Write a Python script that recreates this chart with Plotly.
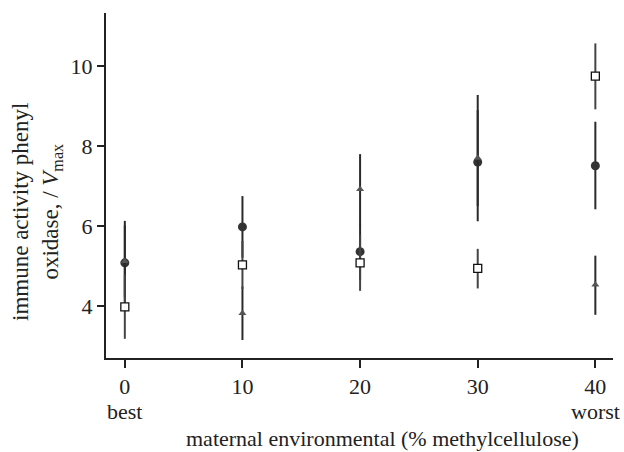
import plotly.graph_objects as go

x_vals = [0, 10, 20, 30, 40]
tick_text = ["0", "10", "20", "30", "40"]
end_labels = {0: "best", 40: "worst"}

square_y = [3.98, 5.03, 5.08, 4.94, 9.75]
square_up = [0.80, 0.60, 0.70, 0.49, 0.82]
square_dn = [0.80, 0.60, 0.70, 0.50, 0.83]

circle_y = [5.08, 5.98, 5.36, 7.60, 7.51]
circle_up = [1.05, 0.77, 0.70, 1.68, 1.10]
circle_dn = [1.00, 0.77, 0.70, 1.48, 1.09]

triangle_y = [5.12, 3.82, 6.92, 7.70, 4.53]
triangle_up = [0.90, 0.67, 0.88, 1.20, 0.73]
triangle_dn = [0.90, 0.67, 0.88, 1.20, 0.75]

font_family = "Liberation Serif, Times New Roman, serif"

W, H = 624, 452
L, R, T, B = 106, 11, 13, 94
PW, PH = W - L - R, H - T - B

fig = go.Figure()

fig.add_trace(go.Scatter(
    x=x_vals, y=circle_y, mode="markers",
    marker=dict(symbol="circle", size=9, color="#333333", line=dict(width=0)),
    error_y=dict(type="data", symmetric=False, array=circle_up, arrayminus=circle_dn,
                 width=0, thickness=2, color="#2a2a2a"),
    showlegend=False,
))
fig.add_trace(go.Scatter(
    x=x_vals, y=triangle_y, mode="markers",
    marker=dict(symbol="triangle-up", size=7, color="#555555", line=dict(width=0)),
    error_y=dict(type="data", symmetric=False, array=triangle_up, arrayminus=triangle_dn,
                 width=0, thickness=2, color="#2a2a2a"),
    showlegend=False,
))
fig.add_trace(go.Scatter(
    x=x_vals, y=square_y, mode="markers",
    marker=dict(symbol="square", size=8, color="white", line=dict(width=1.3, color="#111111")),
    error_y=dict(type="data", symmetric=False, array=square_up, arrayminus=square_dn,
                 width=0, thickness=2, color="#444444"),
    showlegend=False,
))

annotations = [
    dict(text=txt, xref="x", yref="paper", x=xv, y=-(411 - 358) / PH,
         xanchor="center", yanchor="middle", showarrow=False, font=dict(size=22))
    for xv, txt in end_labels.items()
]
annotations += [
    dict(text="maternal environmental (% methylcellulose)", xref="paper", yref="paper",
         x=(382 - 106) / PW, y=-(438 - 358) / PH, xanchor="center",
         yanchor="middle", showarrow=False, font=dict(size=22)),
    dict(text="immune activity phenyl<br>oxidase, / <i>V</i><sub>max</sub>",
         xref="paper", yref="paper",
         x=-(106 - 37) / PW, y=(358 - 212) / PH,
         xanchor="center", yanchor="middle", textangle=-90, showarrow=False,
         font=dict(size=23)),
]

fig.update_layout(
    width=W, height=H,
    margin=dict(l=L, r=R, t=T, b=B, autoexpand=False),
    plot_bgcolor="white", paper_bgcolor="white",
    font=dict(family=font_family, size=22, color="#222222"),
    xaxis=dict(
        range=[-1.6, 41.5], tickmode="array", tickvals=x_vals, ticktext=tick_text,
        showgrid=False, zeroline=False, showline=True, linecolor="#222222", linewidth=2,
        ticks="outside", ticklen=8, tickwidth=1.5, tickcolor="#222222",
        tickfont=dict(size=22), automargin=False,
    ),
    yaxis=dict(
        range=[2.7, 11.33], tickmode="array", tickvals=[4, 6, 8, 10],
        showgrid=False, zeroline=False, showline=True, linecolor="#222222", linewidth=2,
        ticks="outside", ticklen=7, tickwidth=1.5, tickcolor="#222222",
        tickfont=dict(size=22), automargin=False,
    ),
    annotations=annotations,
)

fig.write_html(
    "out.html",
    config={"displayModeBar": False},
    post_script="document.body.style.margin='0';document.body.style.overflow='hidden';",
)
